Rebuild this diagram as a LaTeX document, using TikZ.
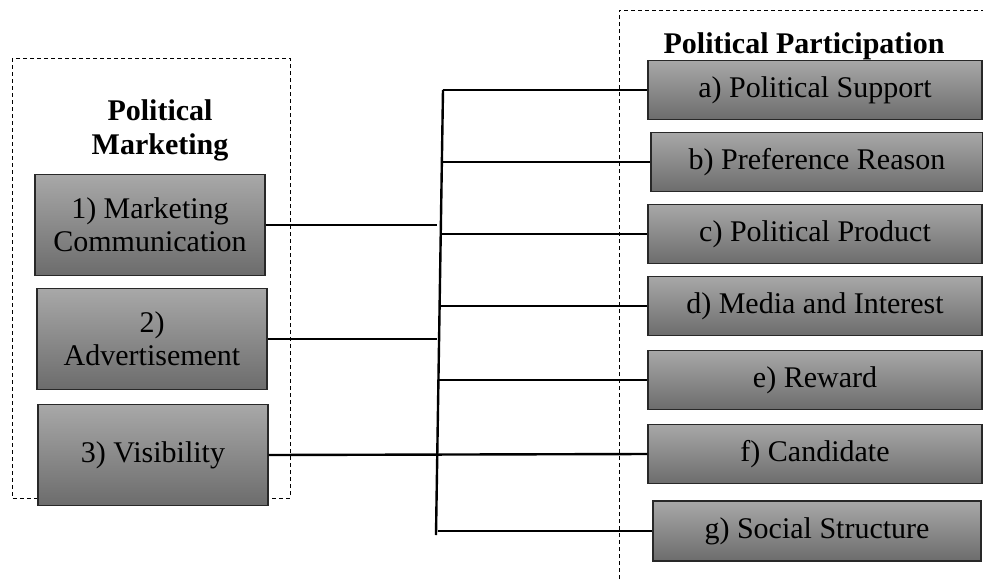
\documentclass[tikz,border=0pt]{standalone}
\usepackage{fontspec}
\setmainfont{Liberation Serif}
\begin{document}
\begin{tikzpicture}[x=1pt,y=-1pt,
  box/.style={draw={rgb,255:red,40;green,40;blue,40},line width=1.3pt,
    top color={rgb,255:red,168;green,168;blue,168},
    bottom color={rgb,255:red,108;green,108;blue,108},
    inner sep=0pt,align=center,font=\fontsize{30}{33}\selectfont},
  ttl/.style={font=\fontsize{30}{34}\selectfont\bfseries,align=center,inner sep=0pt},
  group/.style={draw=black,line width=0.9pt,dash pattern=on 4pt off 3pt},
  conn/.style={draw=black,line width=2.4pt}]
\useasboundingbox (0,0) rectangle (983,579);
\clip (0,0) rectangle (983,579);
% groups
\draw[group] (12,58) rectangle (290,498);
\draw[group] (619,579) -- (619,10) -- (983,10);
\node[ttl] (tl) at (160,130) {Political\\Marketing};
\node[ttl] (tr) at (804,46) {Political Participation};
% left boxes
\node[box,minimum width=230pt,minimum height=101pt] (m1) at (150,225) {1) Marketing\\Communication};
\node[box,minimum width=230pt,minimum height=101pt] (m2) at (152,339) {2)\\Advertisement};
\node[box,minimum width=230pt,minimum height=101pt] (m3) at (153,455) {3) Visibility};
% right boxes
\node[box,minimum width=334pt,minimum height=59pt] (pa) at (815,90) {a) Political Support};
\node[box,minimum width=332pt,minimum height=59pt] (pb) at (817,162) {b) Preference Reason};
\node[box,minimum width=334pt,minimum height=59pt] (pc) at (815,234) {c) Political Product};
\node[box,minimum width=334pt,minimum height=59pt] (pd) at (815,306) {d) Media and Interest};
\node[box,minimum width=334pt,minimum height=59pt] (pe) at (815,380) {e) Reward};
\node[box,minimum width=334pt,minimum height=59pt] (pf) at (815,454) {f) Candidate};
\node[box,minimum width=328pt,minimum height=60pt] (pg) at (817,531) {g) Social Structure};
% trunk
\coordinate (vtop) at (443,90);
\coordinate (vbot) at (436,535);
\draw[conn] (vtop) -- (vbot);
\coordinate (ja) at (443,90);
\coordinate (jb) at (442,162);
\coordinate (jc) at (441,234);
\coordinate (jd) at (440,306);
\coordinate (je) at (439,380);
\coordinate (jg) at (438,531);
\coordinate (e1) at (437,224);
\coordinate (e2) at (437,335);
\draw[conn] (ja) -- (pa.west);
\draw[conn] (jb) -- (pb.west);
\draw[conn] (jc) -- (pc.west);
\draw[conn] (jd) -- (pd.west);
\draw[conn] (je) -- (pe.west);
\draw[conn] (jg) -- (pg.west);
\draw[conn] (m1.east) -- (m1.east -| e1);
\draw[conn] (m2.east) -- (m2.east -| e2);
\draw[conn] (m3.east) -- (pf.west);
\end{tikzpicture}
\end{document}
